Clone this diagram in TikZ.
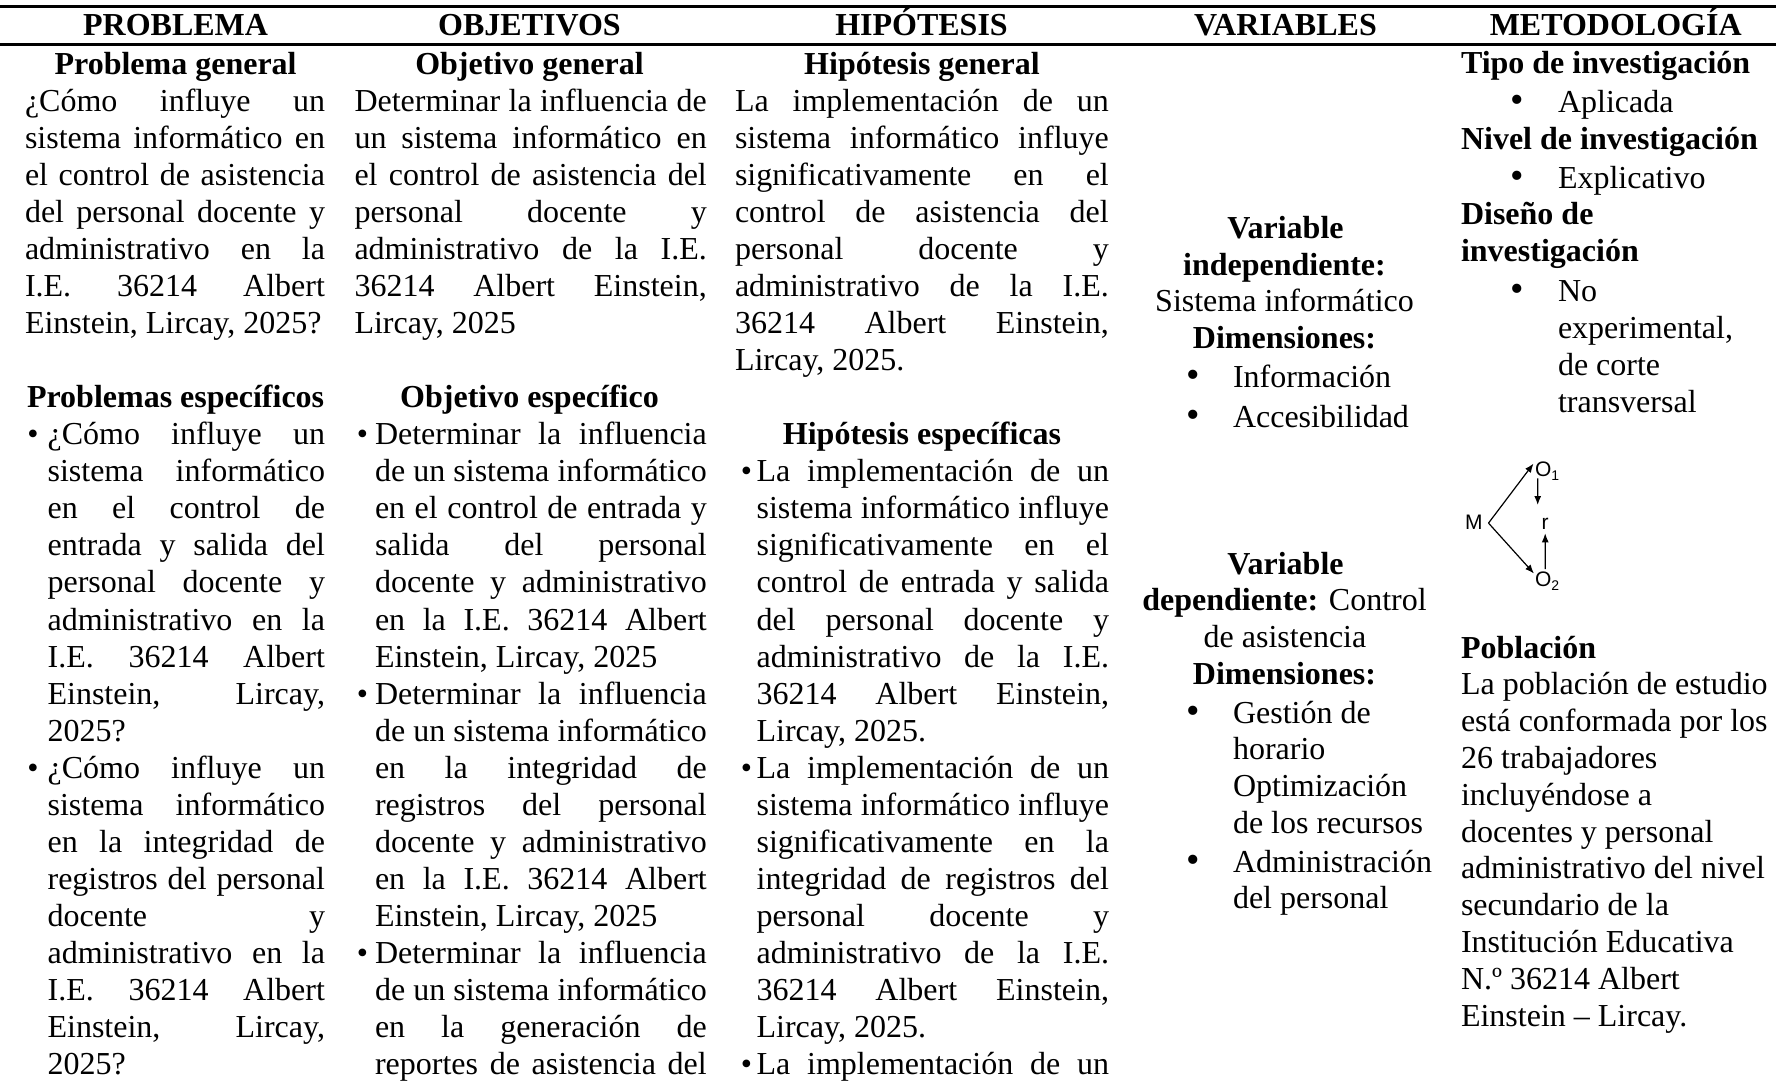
\documentclass[tikz,border=0pt]{standalone}
\usepackage{fontspec}
\setmainfont{Liberation Serif}[Ligatures={TeX,NoCommon}]
\newfontfamily\arialf{Liberation Sans}
\usetikzlibrary{arrows.meta}
\newcommand\J[1]{{\spaceskip=0pt\xspaceskip=0pt\makebox[\linewidth][s]{#1}}}
\newcommand\mysub[1]{\raisebox{-4pt}{\fontsize{14}{14}\selectfont #1}}
\newcommand\nsp{\spaceskip=0pt\xspaceskip=0pt\relax}
\begin{document}
\hyphenpenalty=10000\relax
\exhyphenpenalty=10000\relax
\begin{tikzpicture}[x=1pt,y=-1pt,
  txt/.style={anchor=base west,inner sep=0pt,outer sep=0pt,font=\fontsize{32}{37.07}\selectfont,execute at begin node=\nsp},
  ctr/.style={anchor=base,inner sep=0pt,outer sep=0pt,font=\fontsize{32}{37}\selectfont},
  hdr/.style={anchor=base,inner sep=0pt,outer sep=0pt,font=\fontsize{32}{37}\selectfont\bfseries},
  bhd/.style={anchor=base west,inner sep=0pt,outer sep=0pt,font=\fontsize{32}{37.6}\selectfont\bfseries,execute at begin node=\nsp},
  bul/.style={anchor=base,inner sep=0pt,outer sep=0pt,font=\fontsize{32}{37}\selectfont},
  dg/.style={anchor=base west,inner sep=0pt,outer sep=0pt,font=\arialf\fontsize{21}{25}\selectfont},
  arr/.style={-{Latex[length=9pt,width=7pt]},line width=1.2pt},
  hrule/.style={line width=3pt}]
\useasboundingbox (0,0) rectangle (1776,1080);
% rules
\coordinate (tl) at (0,6); \coordinate (tr) at (1776,6);
\coordinate (ml) at (0,44); \coordinate (mr) at (1776,44);
\draw[hrule] (tl) -- (tr);
\draw[hrule] (ml) -- (mr);
% headers
\node[hdr] (h1) at (175.6,35) {PROBLEMA};
\node[hdr] (h2) at (529.5,35) {OBJETIVOS};
\node[hdr] (h3) at (921.5,35) {HIPÓTESIS};
\node[hdr] (h4) at (1285.5,35) {VARIABLES};
\node[hdr] (h5) at (1615.7,35) {METODOLOGÍA};
% ---------------- column 1
\node[hdr] (pg) at (175.6,74) {Problema general};
\node[txt,text width=300pt] (pgt) at (25,111.07) {\J{¿Cómo influye un}\\\J{sistema informático en}\\\J{el control de asistencia}\\\J{del personal docente y}\\\J{administrativo en la}\\\J{I.E. 36214 Albert}\\Einstein, Lircay, 2025?};
\node[hdr] (pe) at (175.6,407.63) {Problemas específicos};
\node[bul] (b11) at (33,444.7) {•};
\node[txt,text width=277.4pt] (pe1) at (47.6,444.7) {\J{¿Cómo influye un}\\\J{sistema informático}\\\J{en el control de}\\\J{entrada y salida del}\\\J{personal docente y}\\\J{administrativo en la}\\\J{I.E. 36214 Albert}\\\J{Einstein, Lircay,}\\2025?};
\node[bul] (b12) at (33,778.33) {•};
\node[txt,text width=277.4pt] (pe2) at (47.6,778.33) {\J{¿Cómo influye un}\\\J{sistema informático}\\\J{en la integridad de}\\\J{registros del personal}\\\J{docente y}\\\J{administrativo en la}\\\J{I.E. 36214 Albert}\\\J{Einstein, Lircay,}\\2025?};
% ---------------- column 2
\node[hdr] (og) at (529.5,74) {Objetivo general};
\node[txt,text width=352.3pt] (ogt) at (354.5,111.07) {\J{Determinar la influencia de}\\\J{un sistema informático en}\\\J{el control de asistencia del}\\\J{personal docente y}\\\J{administrativo de la I.E.}\\\J{36214 Albert Einstein,}\\Lircay, 2025};
\node[hdr] (oe) at (529.5,407.63) {Objetivo específico};
\node[bul] (b21) at (362.5,444.7) {•};
\node[txt,text width=331.8pt] (oe1) at (375,444.7) {\J{Determinar la influencia}\\\J{de un sistema informático}\\\J{en el control de entrada y}\\\J{salida del personal}\\\J{docente y administrativo}\\\J{en la I.E. 36214 Albert}\\Einstein, Lircay, 2025};
\node[bul] (b22) at (362.5,704.19) {•};
\node[txt,text width=331.8pt] (oe2) at (375,704.19) {\J{Determinar la influencia}\\\J{de un sistema informático}\\\J{en la integridad de}\\\J{registros del personal}\\\J{docente y administrativo}\\\J{en la I.E. 36214 Albert}\\Einstein, Lircay, 2025};
\node[bul] (b23) at (362.5,963.68) {•};
\node[txt,text width=331.8pt] (oe3) at (375,963.68) {\J{Determinar la influencia}\\\J{de un sistema informático}\\\J{en la generación de}\\\J{reportes de asistencia del}};
% ---------------- column 3
\node[hdr] (hg) at (922,74) {Hipótesis general};
\node[txt,text width=373.8pt] (hgt) at (735,111.07) {\J{La implementación de un}\\\J{sistema informático influye}\\\J{significativamente en el}\\\J{control de asistencia del}\\\J{personal docente y}\\\J{administrativo de la I.E.}\\\J{36214 Albert Einstein,}\\Lircay, 2025.};
\node[hdr] (he) at (922,444.7) {Hipótesis específicas};
\node[bul] (b31) at (746.4,481.77) {•};
\node[txt,text width=352.4pt] (he1) at (756.6,481.77) {\J{La implementación de un}\\\J{sistema informático influye}\\\J{significativamente en el}\\\J{control de entrada y salida}\\\J{del personal docente y}\\\J{administrativo de la I.E.}\\\J{36214 Albert Einstein,}\\Lircay, 2025.};
\node[bul] (b32) at (746.4,778.33) {•};
\node[txt,text width=352.4pt] (he2) at (756.6,778.33) {\J{La implementación de un}\\\J{sistema informático influye}\\\J{significativamente en la}\\\J{integridad de registros del}\\\J{personal docente y}\\\J{administrativo de la I.E.}\\\J{36214 Albert Einstein,}\\Lircay, 2025.};
\node[bul] (b33) at (746.4,1074.89) {•};
\node[txt,text width=352.4pt] (he3) at (756.6,1074.89) {\J{La implementación de un}};
% ---------------- column 4
\node[hdr] (v1a) at (1285.5,238) {Variable};
\node[hdr] (v1b) at (1284.5,275) {independiente:};
\node[ctr] (v1c) at (1284.5,311) {Sistema informático};
\node[hdr] (v1d) at (1284.5,348) {Dimensiones:};
\node[bul] (vb1) at (1193,387) {\scalebox{1.2}{•}};
\node[txt] (vi1) at (1233,387) {Información};
\node[bul] (vb2) at (1193,427) {\scalebox{1.2}{•}};
\node[txt] (vi2) at (1233,427) {Accesibilidad};
\node[hdr] (v2a) at (1285.5,574) {Variable};
\node[ctr] (v2b) at (1284.5,610) {\textbf{dependiente:} Control};
\node[ctr] (v2c) at (1285,647) {de asistencia};
\node[hdr] (v2d) at (1284.5,684) {Dimensiones:};
\node[bul] (vb3) at (1193,723) {\scalebox{1.2}{•}};
\node[txt,text width=220pt,font=\fontsize{32}{36.7}\selectfont] (vg) at (1233,723) {Gestión de\\horario\\Optimización\\de los recursos};
\node[bul] (vb4) at (1193,872) {\scalebox{1.2}{•}};
\node[txt,text width=220pt,font=\fontsize{32}{36}\selectfont] (va) at (1233,872) {Administración\\del personal};
% ---------------- column 5
\node[bhd] (t1) at (1461,73.6) {Tipo de investigación};
\node[bul] (tb1) at (1517,112) {\scalebox{1.2}{•}};
\node[txt] (tt1) at (1558,112) {Aplicada};
\node[bhd] (t2) at (1461,149.4) {Nivel de investigación};
\node[bul] (tb2) at (1517,188) {\scalebox{1.2}{•}};
\node[txt] (tt2) at (1558,188) {Explicativo};
\node[bhd,text width=300pt] (t3) at (1461,224) {Diseño de\\investigación};
\node[bul] (tb3) at (1517,301) {\scalebox{1.2}{•}};
\node[txt,text width=210pt,font=\fontsize{32}{37}\selectfont] (tt3) at (1558,301) {No\\experimental,\\de corte\\transversal};
\node[bhd] (pob) at (1461,658) {Población};
\node[txt,text width=314pt,font=\fontsize{32}{36.8}\selectfont] (pobt) at (1461,694.8) {La población de estudio\\está conformada por los\\26 trabajadores\\incluyéndose a\\docentes y personal\\administrativo del nivel\\secundario de la\\Institución Educativa\\N.º 36214 Albert\\Einstein – Lircay.};
% ---------------- design diagram
\node[dg] (M) at (1465,529.3) {M};
\node[dg] (O1) at (1535,476.7) {O\mysub{1}};
\node[dg] (r) at (1541.7,529.3) {r};
\node[dg] (O2) at (1535,586.7) {O\mysub{2}};
\coordinate (Mv) at ([xshift=6pt,yshift=-1pt]M.east);
\draw[arr] (Mv) -- ([xshift=-1.5pt,yshift=-1.5pt]O1.north west);
\draw[arr] (Mv) -- ([xshift=-1pt,yshift=-1.5pt]O2.north west);
\draw[arr] ([xshift=2.7pt,yshift=-1.6pt]O1.base west) -- ([xshift=-7.5pt,yshift=13pt]r.north);
\draw[arr] ([xshift=10.3pt,yshift=3pt]O2.north west) -- ([yshift=-4pt]r.south);
\end{tikzpicture}
\end{document}
